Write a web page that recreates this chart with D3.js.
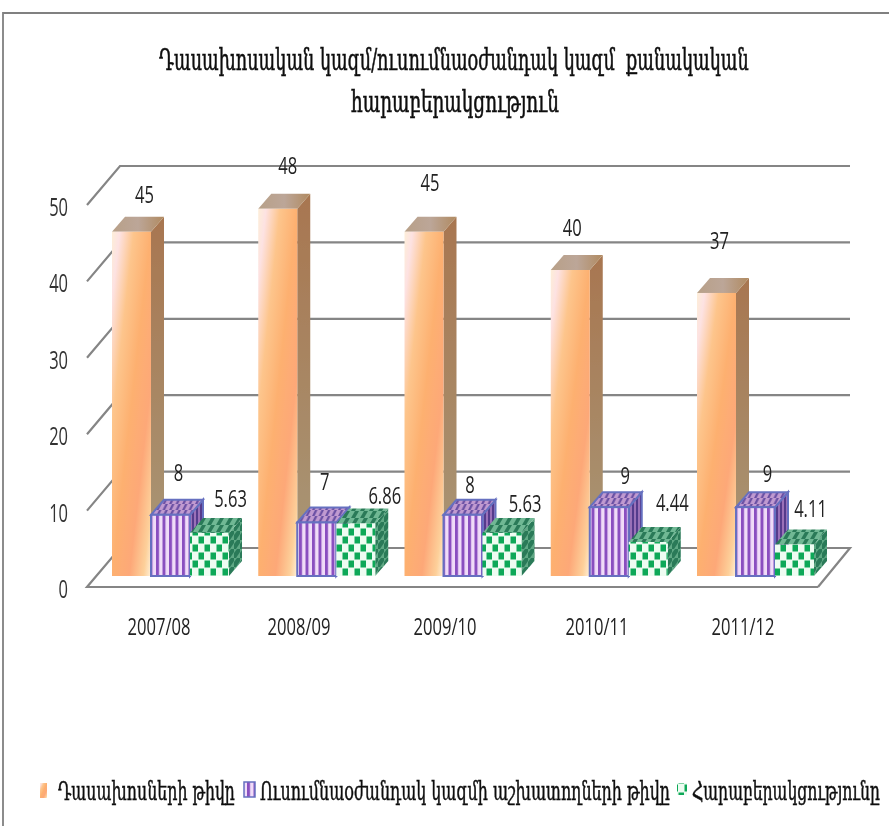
<!DOCTYPE html>
<html><head><meta charset="utf-8">
<style>html,body{margin:0;padding:0;background:#fff}svg{display:block}</style>
<script src="https://cdn.jsdelivr.net/npm/d3@7/dist/d3.min.js"></script>
</head><body><svg id="c" width="889" height="828"></svg>
<script>
const years = ["2007/08","2008/09","2009/10","2010/11","2011/12"];
const lecturers = [45,48,45,40,37];
const staff = [8,7,8,9,9];
const ratio = [5.63,6.86,5.63,4.44,4.11];
const seriesNames = ["Դասախոսների թիվը","Ուսումնաօժանդակ կազմի աշխատողների թիվը","Հարաբերակցությունը"];
const titleLines = ["Դասախոսական կազմ/ուսումնաօժանդակ կազմ  քանակական","հարաբերակցություն"];
const yTicks = [0,10,20,30,40,50];

// layout constants (manual label placement as in the original)
const labelNudge = [[[13,-37],[8,-42],[21,-35]],[[10,-43],[8,-41],[29,-28]],[[6,-49],[7,-30],[23,-30]],[[2,-43],[16,-32],[24,-40]],[[3,-53],[12,-34],[16,-36]]];
const yearLabelShift = [0,-6,-6,0,0];
const svg = d3.select("#c");
const serif = "'DejaVu Serif Condensed','DejaVu Serif',serif";
const narrow = "'Open Sans',sans-serif";
const defs = svg.append("defs");
defs.append("filter").attr("id","soft").append("feGaussianBlur").attr("stdDeviation",0.7);
const gr = (id,x2,y2,stops)=>{const g=defs.append("linearGradient").attr("id",id).attr("x1",0).attr("y1",0).attr("x2",x2).attr("y2",y2);
  stops.forEach(s=>g.append("stop").attr("offset",s[0]).attr("stop-color",s[1]));};
gr("oFront",1,1,[[0,"#fdeed8"],[.1,"#fde2e2"],[.28,"#fdc58c"],[.5,"#fdb070"],[.72,"#fda878"],[.9,"#fdd09a"],[1,"#fff0d8"]]);
gr("oSide",0,1,[[0,"#a87650"],[1,"#a89878"]]);
gr("oTop",1,0,[[0,"#b8a088"],[.5,"#bca698"],[1,"#b08a60"]]);
const pat = (id,w,h,bg,draw)=>{const p=defs.append("pattern").attr("id",id).attr("patternUnits","userSpaceOnUse").attr("width",w).attr("height",h);
  p.append("rect").attr("width",w).attr("height",h).attr("fill",bg);draw(p);};
pat("pFront",6.5,7,"#f0dcf8",p=>p.append("rect").attr("width",3).attr("height",7).attr("fill","#8a50c0"));
pat("pSide",4,5,"#9a70b8",p=>p.append("rect").attr("width",2).attr("height",5).attr("fill","#553a8c"));
pat("pTop",6.5,6,"#c09ad0",p=>p.append("path").attr("d","M0,6L3,0H5.5L2.5,6Z").attr("fill","#6a50a4"));
pat("gFront",12,16,"#eefcf2",p=>{p.append("rect").attr("x",.5).attr("y",.5).attr("width",5.5).attr("height",7).attr("fill","#10a858");
  p.append("rect").attr("x",6.5).attr("y",8.5).attr("width",5.5).attr("height",7).attr("fill","#10a858");});
pat("gTop",9,7,"#6fb894",p=>{p.append("path").attr("d","M0,7L4,0H8L4,7Z").attr("fill","#2a7a58");});
pat("gSide",6,9,"#5fa884",p=>{p.append("path").attr("d","M0,9V4L3,0H6V3L2,9Z").attr("fill","#2a7a58");});

svg.append("rect").attr("width",889).attr("height",828).attr("fill","#fff");
const root = svg.append("g").attr("filter","url(#soft)");
root.append("path").attr("d","M3,826V13H889").attr("fill","none").attr("stroke","#808080").attr("stroke-width",1.8);

// scales
const frontBase = 576, depth = {x:13,y:15};
const x = d3.scaleBand().domain(years).range([112,814]).paddingInner(0.2).paddingOuter(0);
const inner = d3.scaleBand().domain([0,1,2]).range([0,x.bandwidth()]);
const y = d3.scaleLinear().domain([0,50]).range([0,382.5]);
const wall = d3.scaleLinear().domain([0,50]).range([587,205]);
const wallDx = 33, wallDy = 39, wallLeft = 87, wallRight = 818;

// grid + floor
const grid = root.append("g").attr("fill","none").attr("stroke","#858585").attr("stroke-width",2.2);
grid.selectAll("path").data(yTicks).join("path").attr("d",d=>{
  const y0=wall(d);
  return d===0 ? `M${wallRight},${y0}H${wallLeft}L${wallLeft+wallDx},${y0-wallDy}H${wallRight+wallDx-1}L${wallRight},${y0}`
    : `M${wallLeft},${y0}L${wallLeft+wallDx},${y0-wallDy}H${wallRight+wallDx-1}`;});

// bars
const series = [
 {vals:lecturers,front:"url(#oFront)",side:"url(#oSide)",top:"url(#oTop)",stroke:"none"},
 {vals:staff,front:"url(#pFront)",side:"url(#pSide)",top:"url(#pTop)",stroke:"#6670c0"},
 {vals:ratio,front:"url(#gFront)",side:"url(#gSide)",top:"url(#gTop)",stroke:"none"}];
years.forEach((yr,i)=>{
  const g=root.append("g");
  series.forEach((s,k)=>{
    const v=s.vals[i],x0=x(yr)+inner(k),w=inner.bandwidth(),h=y(v),t=frontBase-h;
    const sw=s.stroke==="none"?0:2;
    g.append("path").attr("d",`M${x0+w},${t}l${depth.x},${-depth.y}V${frontBase-depth.y}L${x0+w},${frontBase}Z`).attr("fill",s.side).attr("stroke",s.stroke).attr("stroke-width",sw);
    g.append("path").attr("d",`M${x0},${t}l${depth.x},${-depth.y}h${w}l${-depth.x},${depth.y}Z`).attr("fill",s.top).attr("stroke",s.stroke).attr("stroke-width",sw);
    g.append("rect").attr("x",x0).attr("y",t).attr("width",w).attr("height",h).attr("fill",s.front).attr("stroke",s.stroke).attr("stroke-width",sw);
  });
});

const squeeze=(sel,px,py,sx)=>sel.attr("x",0).attr("y",0).attr("transform",`translate(${px},${py}) scale(${sx},1)`);
// data labels
years.forEach((yr,i)=>series.forEach((s,k)=>{
  const v=s.vals[i],n=labelNudge[i][k];
  root.append("text").call(squeeze,x(yr)+inner(k)+inner.bandwidth()/2+n[0],frontBase-y(v)+n[1],0.72)
    .attr("text-anchor","middle").attr("dominant-baseline","central").attr("font-family",narrow).attr("font-size",23).attr("fill","#222").text(v);
}));

// axes
const axisY=d3.axisLeft(wall).tickValues(yTicks).tickSize(0).tickPadding(0);
const ay=root.append("g").attr("transform","translate(68,1.5)").call(axisY);
ay.select(".domain").remove();
ay.selectAll("text").attr("font-family",narrow).attr("font-size",25).attr("fill","#333").attr("dy","0.36em")
  .attr("text-anchor","end").attr("transform","scale(0.66,1)");
const xLab=d3.scalePoint().domain(years).range([159,743]);
const axisX=d3.axisBottom(d3.scalePoint().domain(years).range([0,0])).tickSize(0).tickPadding(0);
const ax=root.append("g").attr("transform","translate(0,627)").call(axisX);
ax.select(".domain").remove();
ax.selectAll(".tick").attr("transform",(d,i)=>`translate(${xLab(d)+yearLabelShift[i]},0)`);
ax.selectAll("text").attr("font-family",narrow).attr("font-size",23).attr("fill","#222").attr("y",0).attr("dy","0.36em").attr("transform","scale(0.72,1)");

// fit text to a target width by horizontal scaling
function fitted(t,x0,base,width,size,strokeW){
  const el=root.append("text").attr("x",0).attr("y",0).attr("font-family",serif).attr("font-size",size)
    .attr("fill","#111").attr("stroke","#111").attr("stroke-width",strokeW).style("white-space","pre").text(t);
  const w=el.node().getComputedTextLength();
  el.attr("transform",`translate(${x0},${base}) scale(${width/w},1)`);
  return el;
}
const titleSpec=[[159,590,70],[351,208,112]];
titleLines.forEach((t,i)=>fitted(t,titleSpec[i][0],titleSpec[i][2],titleSpec[i][1],29,0.6));

// legend
const legendSpec=[[40,783,7,15,"url(#oFront)","none",[58,177]],[244,782,11,15,"url(#pFront)","#6670c0",[260,410]],[677,783,10,12,"url(#gFront)","none",[692,188]]];
seriesNames.forEach((t,i)=>{const L=legendSpec[i];
  root.append("rect").attr("x",L[0]).attr("y",L[1]).attr("width",L[2]).attr("height",L[3]).attr("fill",L[4]).attr("stroke",L[5]).attr("stroke-width",L[5]==="none"?0:1.5);
  fitted(t,L[6][0],800,L[6][1],26,0.5);
});
</script></body></html>
